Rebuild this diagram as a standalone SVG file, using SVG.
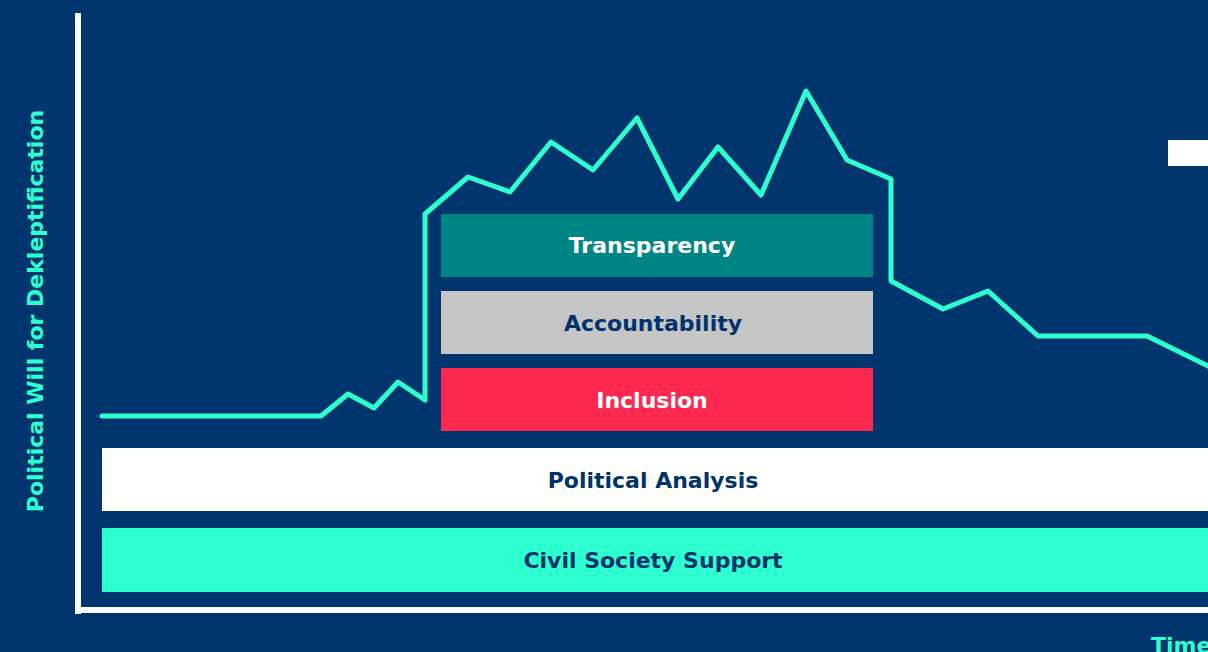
<svg xmlns="http://www.w3.org/2000/svg" width="1208" height="652" viewBox="0 0 1208 652">
<style>
.lbl{font-family:"DejaVu Sans","Liberation Sans",sans-serif;font-weight:bold;font-size:22px;text-anchor:middle}
.w{fill:#ffffff}.n{fill:#00336b}.c{fill:#2effd0}
</style>
<rect width="1208" height="652" fill="#00356d"/>
<g id="axes">
<rect x="75" y="13" width="6" height="601" fill="#ffffff"/>
<rect x="75" y="607" width="1133" height="6" fill="#ffffff"/>
<text class="lbl c" transform="translate(43,311) rotate(-90)">Political Will for Dekleptification</text>
<text class="lbl c" x="1151" y="653" style="text-anchor:start">Time</text>
</g>
<rect id="marker-box" x="1168" y="140" width="40" height="26" fill="#ffffff"/>
<g id="connectors">
<polyline fill="none" stroke="#2effd0" stroke-width="5" stroke-linejoin="round" stroke-linecap="round" points="102,416 321,416 348,394 374,408 398,382 425,400 425,214 468,177 510,192 551,142 593,170 637,118 678,199 718,147 761,195 806,91 847,160 891,179 891,281 943,309 988,291 1038,336 1147,336 1210,367"/>
</g>
<g id="transparency"><rect x="441" y="214" width="432" height="63" fill="#008587"/><text class="lbl w" x="652" y="253">Transparency</text></g>
<g id="accountability"><rect x="441" y="291" width="432" height="63" fill="#c6c6c6"/><text class="lbl n" x="653" y="331">Accountability</text></g>
<g id="inclusion"><rect x="441" y="368" width="432" height="63" fill="#ff284f"/><text class="lbl w" x="652" y="408">Inclusion</text></g>
<g id="political-analysis"><rect x="102" y="448" width="1106" height="63" fill="#ffffff"/><text class="lbl n" x="653" y="488">Political Analysis</text></g>
<g id="civil-society"><rect x="102" y="528" width="1106" height="64" fill="#2effd0"/><text class="lbl n" x="653" y="568">Civil Society Support</text></g>
</svg>
